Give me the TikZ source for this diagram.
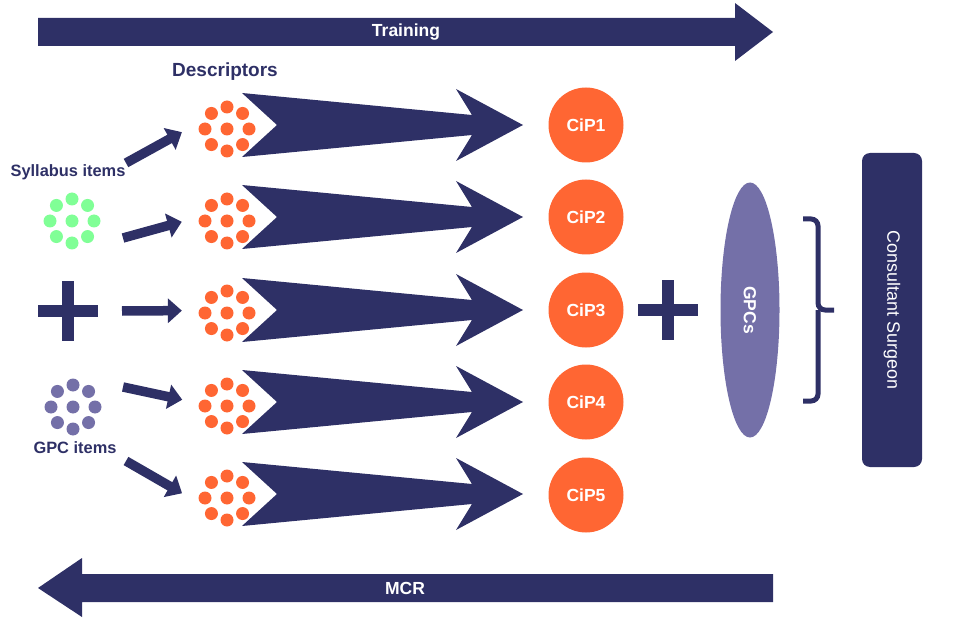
\documentclass[tikz,border=0pt]{standalone}
\usepackage{fontspec}
\setmainfont{Liberation Sans}
\usepackage{xcolor}
\definecolor{navy}{RGB}{46,48,102}
\definecolor{cipred}{RGB}{255,102,51}
\definecolor{sylgreen}{RGB}{128,255,150}
\definecolor{gpcpurple}{RGB}{116,112,168}
\usetikzlibrary{arrows.meta}
\usetikzlibrary{shapes.geometric}
\usetikzlibrary{positioning}
\tikzset{pics/.cd, dotring/.style={code={%
			\fill[#1] (0,0) circle (6.5pt);
			\foreach \a in {0,45,...,315} \fill[#1] (\a:22pt) circle (6.5pt);}},
	fatarrow/.style={code={%
			\fill[navy] (15,-32) -- (245,-10) -- (229,-36) -- (296,0) -- (229,36)
			-- (245,10) -- (15,32) -- (50,0) -- cycle;}},
	plussign/.style={code={%
			\fill[navy] (-30,-6) rectangle (30,6);
			\fill[navy] (-6,-30) rectangle (6,30);}}}
\tikzset{
	bannertext/.style={text=white, font=\fontsize{17.5}{20}\selectfont\bfseries},
	itemtext/.style={text=navy, font=\fontsize{16.4}{19}\selectfont\bfseries},
	cluster/.style={circle, minimum size=90pt, inner sep=0pt},
	cip/.style={circle, fill=cipred, minimum size=75pt, inner sep=0pt, text=white,
		font=\fontsize{17.5}{20}\selectfont\bfseries},
	feed/.style={navy, line width=9.5pt, -{Triangle[length=14pt, width=24pt]}},
	bracket/.style={navy, line width=5pt, rounded corners=7pt}
}

\begin{document}
\begin{tikzpicture}[x=1pt, y=-1pt]
	\useasboundingbox (0,0) rectangle (956,631);
	
	% Training
	\fill[navy] (38,18) -- (735,18) -- (735,3) -- (773,32) -- (735,61) -- (735,46) -- (38,46) -- cycle;
	\node[bannertext] (train) at (406,32) {Training};
	
	% MCR
	\fill[navy] (773,574) -- (82,574) -- (82,558) -- (38,588) -- (82,617) -- (82,602) -- (773,602) -- cycle;
	\node[bannertext] (mcr) at (405,588) {MCR};
	
	% Descriptors
	\node[text=navy, font=\fontsize{19}{22}\selectfont\bfseries] (desc) at (225,72) {Descriptors};
	\node[cluster] (desc1) at (227,129) {};
	\node[cluster] (desc2) at (227,221) {};
	\node[cluster] (desc3) at (227,313) {};
	\node[cluster] (desc4) at (227,406) {};
	\node[cluster] (desc5) at (227,498) {};
	\pic at (desc1) {dotring=cipred};
	\pic at (desc2) {dotring=cipred};
	\pic at (desc3) {dotring=cipred};
	\pic at (desc4) {dotring=cipred};
	\pic at (desc5) {dotring=cipred};
	\pic at ([yshift=4pt]desc1) {fatarrow};
	\pic at ([yshift=4pt]desc2) {fatarrow};
	\pic at ([yshift=3pt]desc3) {fatarrow};
	\pic at ([yshift=4pt]desc4) {fatarrow};
	\pic at ([yshift=4pt]desc5) {fatarrow};
	
	% CiPs
	\node[cip] (cip1) at (586,125) {CiP1};
	\node[cip] (cip2) at (586,217) {CiP2};
	\node[cip] (cip3) at (586,310) {CiP3};
	\node[cip] (cip4) at (586,402) {CiP4};
	\node[cip] (cip5) at (586,495) {CiP5};
	
	% inputs on the left
	\node[itemtext] (syl) at (68,172) {Syllabus items};
	\pic at (72,221) {dotring=sylgreen};
	\pic at (68,311) {plussign};
	\pic at (73,407) {dotring=gpcpurple};
	\node[itemtext] (gpcitems) at (75,448) {GPC items};
	
	\coordinate (t1) at (126,163);
	\coordinate (t2) at (123,238);
	\coordinate (t3) at (122,311);
	\coordinate (t4) at (123,387);
	\coordinate (t5) at (126,461);
	\draw[feed] (t1) -- (desc1.184);
	\draw[feed] (t2) -- (desc2.181);
	\draw[feed] (t3) -- (desc3.177);
	\draw[feed] (t4) -- (desc4.172);
	\draw[feed] (t5) -- (desc5.174);
	
	% GPCs and consultant
	\pic at (668,310) {plussign};
	\node[ellipse, fill=gpcpurple, rotate=-90, minimum width=255pt, minimum height=59pt,
		inner sep=0pt, text=white, font=\fontsize{17.5}{20}\selectfont\bfseries] (gpcs) at (750,310) {GPCs};
	\draw[bracket] (803,219) -- (818,219) -- (818,310) -- (834,310);
	\draw[bracket] (803,401) -- (818,401) -- (818,310);
	\node[rectangle, rounded corners=8pt, fill=navy, rotate=-90, minimum width=314pt, minimum height=60pt,
		text=white, font=\fontsize{17.9}{20}\selectfont] (cons) at (892,310) {Consultant Surgeon};
	
\end{tikzpicture}
\end{document}
